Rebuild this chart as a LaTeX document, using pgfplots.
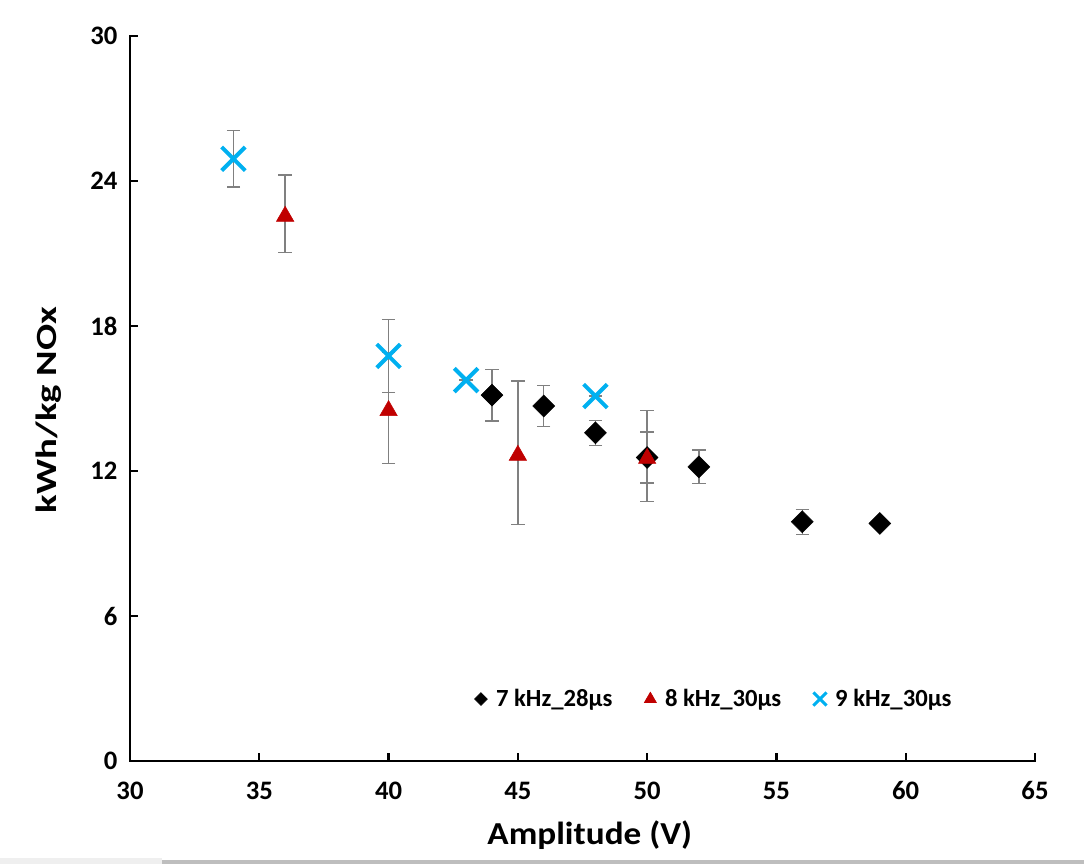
\documentclass[border=0pt]{standalone}
\usepackage{pgfplots}
\pgfplotsset{compat=1.18}
\usepackage{fontspec}
\setmainfont{Carlito}
\definecolor{xlblue}{HTML}{00B0F0}
\definecolor{xlred}{HTML}{C00000}
\definecolor{ebgray}{HTML}{808080}
\begin{document}
\begin{tikzpicture}
\path[use as bounding box] (0,0) rectangle (813pt,648pt);
\fill[fill={rgb,255:red,239;green,239;blue,239}] (0,0) rectangle (121.5pt,4.5pt);
\fill[fill={rgb,255:red,190;green,190;blue,190}] (121.5pt,0) rectangle (813pt,3pt);
\begin{axis}[
  at={(97.5pt,77.25pt)}, anchor=south west,
  scale only axis, width=678.75pt, height=543.75pt,
  xmin=30, xmax=65, ymin=0, ymax=30,
  xtick={30,35,...,65}, ytick={0,6,...,30},
  axis x line*=bottom, axis y line*=left,
  axis line style={line width=2.2pt, line cap=rect},
  tick style={black, line width=1.8pt},
  major tick length=6pt,
  tick align=inside,
  /pgf/number format/assume math mode=true,
  ticklabel style={font=\bfseries\fontsize{20}{23}\selectfont},
  xticklabel style={yshift=-12pt},
  yticklabel style={xshift=-6pt},
  xlabel={\scalebox{1.1}[1]{Amplitude (V)}}, ylabel={\scalebox{1.32}[1]{kWh/kg NOx}},
  xlabel style={font=\bfseries\fontsize{24}{28}\selectfont, at={(axis description cs:0.508,-0.102)}, anchor=center},
  ylabel style={font=\bfseries\fontsize{22}{26}\selectfont, at={(axis description cs:-0.0895,0.484)}, anchor=center, rotate=0},
  clip=false,
  legend columns=3,
  legend style={draw=none, fill=none, at={(rel axis cs:0.376,0.0855)}, anchor=west,
    font=\bfseries\fontsize{18.5}{21}\selectfont,
    /tikz/every odd column/.append style={column sep=4.5pt},
    /tikz/every even column/.append style={column sep=22pt}},
  legend cell align=left,
  error bars/error bar style={ebgray, line width=1pt},
  error bars/error mark options={rotate=90, mark size=5pt, ebgray, line width=1pt},
]
% 7 kHz_28us
\addplot[forget plot, only marks, mark=square*, mark size=5.8pt, mark options={rotate=45, black, fill=black},
  error bars/.cd, y dir=both, y explicit] table[x=x, y=y, y error=e] {
x y e
44 15.14 1.07
46 14.69 0.86
48 13.58 0.52
50 12.56 1.06
52 12.17 0.70
56 9.90 0.52
59 9.83 0
};
% 8 kHz_30us
\addplot[forget plot, only marks, mark=triangle*, mark size=7.5pt, mark options={xlred, fill=xlred, yshift=-1.8pt},
  error bars/.cd, y dir=both, y explicit] table[x=x, y=y, y error=e] {
x y e
36 22.64 1.61
40 14.60 2.30
45 12.75 2.97
50 12.62 1.87
};
% 9 kHz_30us
\addplot[forget plot, only marks, mark=x, mark size=12.5pt, mark options={xlblue, line width=3pt},
  error bars/.cd, y dir=both, y explicit] table[x=x, y=y, y error=e] {
x y e
34 24.92 1.17
40 16.76 1.50
43 15.76 0
48 15.10 0
};
\addlegendimage{only marks, mark=square*, mark size=3.4pt, mark options={rotate=45, black, fill=black}}
\addlegendentry{7 kHz\_28µs}
\addlegendimage{only marks, mark=triangle*, mark size=5.2pt, mark options={xlred, fill=xlred}}
\addlegendentry{8 kHz\_30µs}
\addlegendimage{only marks, mark=x, mark size=7pt, mark options={xlblue, line width=2.2pt}}
\addlegendentry{9 kHz\_30µs}
\end{axis}
\end{tikzpicture}
\end{document}
